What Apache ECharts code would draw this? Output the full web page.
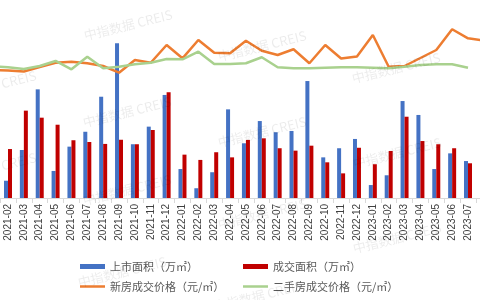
<!DOCTYPE html>
<html>
<head>
<meta charset="utf-8">
<script src="https://cdn.jsdelivr.net/npm/echarts@6/dist/echarts.min.js"></script>
<style>html,body{margin:0;padding:0;background:#fff}#c{width:480px;height:300px}</style>
</head>
<body>
<div id="c"></div>
<script>
const categories = ['2021-01','2021-02','2021-03','2021-04','2021-05','2021-06','2021-07','2021-08','2021-09','2021-10','2021-11','2021-12',
  '2022-01','2022-02','2022-03','2022-04','2022-05','2022-06','2022-07','2022-08','2022-09','2022-10','2022-11','2022-12',
  '2023-01','2023-02','2023-03','2023-04','2023-05','2023-06','2023-07','2023-08'];
const supplyArea = [null, 10.8, 30, 67.9, 16.9, 32.1, 41.4, 63.3, 96.7, 33.6, 44.6, 64.4,
  18.1, 6.1, 16.1, 55.4, 34.2, 48.1, 41.1, 41.9, 73.1, 25.4, 31.1, 36.9,
  8.1, 14.2, 60.6, 51.9, 18.1, 27.9, 23.1, null];
const dealArea = [null, 30.6, 54.6, 50.2, 45.8, 36.1, 35.0, 33.8, 36.4, 33.6, 42.5, 66.1,
  27.1, 23.8, 28.6, 25.4, 36.3, 37.3, 31.1, 29.6, 32.7, 22.3, 15.4, 31.4,
  21.1, 29.4, 50.8, 35.6, 33.6, 31.1, 21.7, null];
const newPrice = [16000, 15940, 15810, 16380, 16910, 17040, 16840, 16500, 15660, 17250, 16910, 19130,
  17460, 19750, 18160, 18090, 19660, 18410, 17880, 18590, 16840, 19130, 17440, 17690,
  20380, 16410, 16500, 17500, 18500, 21090, 19960, 19690];
const secondPrice = [16460, 16340, 16130, 16500, 17130, 16090, 17660, 16210, 16410, 16710, 16910, 17380,
  17340, 18290, 16750, 16750, 16840, 17590, 16340, 16210, 16210, 16290, 16340, 16340,
  16290, 16210, 16410, 16630, 16710, 16710, 16290, null];
const seriesNames = ['上市面积（万㎡）', '成交面积（万㎡）', '新房成交价格（元/㎡）', '二手房成交价格（元/㎡）'];
const watermarkText = '中指数据 CREIS';
const watermarkSpots = [[128,25],[262,46],[396,68],[-8,86],[127,112],[262,132],[397,153],[-8,168],[127,190],[262,214],[397,238],[122,272],[258,296]];

const cjk = '"Noto Sans CJK SC", "Noto Sans", sans-serif';
const chart = echarts.init(document.getElementById('c'), null, {renderer: 'canvas'});
const legendText = {color: '#595959', fontSize: 11, fontFamily: cjk};
function leg(name, left, top, icon, h) {
  return {data: [name], left: left, top: top, icon: icon, itemWidth: 25, itemHeight: h,
    textStyle: legendText, padding: 0, selectedMode: false};
}
const lastIndex = categories.length - 1;
chart.setOption({
  animation: false,
  backgroundColor: '#ffffff',
  grid: {left: -15.8, right: -11.8, top: 22, bottom: 102, containLabel: false, outerBoundsMode: 'none'},
  xAxis: {
    type: 'category', data: categories, boundaryGap: true,
    axisLine: {show: true, lineStyle: {color: '#d9d9d9', width: 1}},
    axisTick: {show: true, length: 5, interval: 0, lineStyle: {color: '#d9d9d9'}},
    axisLabel: {rotate: 90, interval: (i) => i > 0 && i < lastIndex, fontSize: 10, color: '#404040', margin: 6,
      hideOverlap: false, fontFamily: '"Liberation Sans", Arial, sans-serif'}
  },
  yAxis: [
    {type: 'value', min: 0, max: 110, show: false, splitLine: {show: false}},
    {type: 'value', min: 0, max: 22000, show: false, splitLine: {show: false}}
  ],
  legend: [
    leg(seriesNames[0], 80, 261, 'rect', 5),
    leg(seriesNames[1], 243, 261, 'rect', 5),
    leg(seriesNames[2], 80, 281, 'rect', 2.5),
    leg(seriesNames[3], 243, 281, 'rect', 2.5)
  ],
  series: [
    {name: seriesNames[0], type: 'bar', yAxisIndex: 0, data: supplyArea, barWidth: 4, barGap: '0%',
      itemStyle: {color: '#4472C4'}},
    {name: seriesNames[1], type: 'bar', yAxisIndex: 0, data: dealArea, barWidth: 4, barGap: '0%',
      itemStyle: {color: '#C00000'}},
    {name: seriesNames[2], type: 'line', yAxisIndex: 1, data: newPrice, showSymbol: false, symbol: 'none',
      lineStyle: {color: '#ED7D31', width: 2.5}, itemStyle: {color: '#ED7D31'}},
    {name: seriesNames[3], type: 'line', yAxisIndex: 1, data: secondPrice, showSymbol: false, symbol: 'none',
      lineStyle: {color: '#A9D18E', width: 2.5}, itemStyle: {color: '#A9D18E'}}
  ],
  graphic: watermarkSpots.map(p => ({
    type: 'text', x: p[0], y: p[1], rotation: 0.24, z: 100, silent: true,
    style: {text: watermarkText, fontSize: 13, fontFamily: cjk, fill: 'rgba(0,0,0,0.08)',
      align: 'center', verticalAlign: 'middle'}
  }))
});
</script>
</body>
</html>
